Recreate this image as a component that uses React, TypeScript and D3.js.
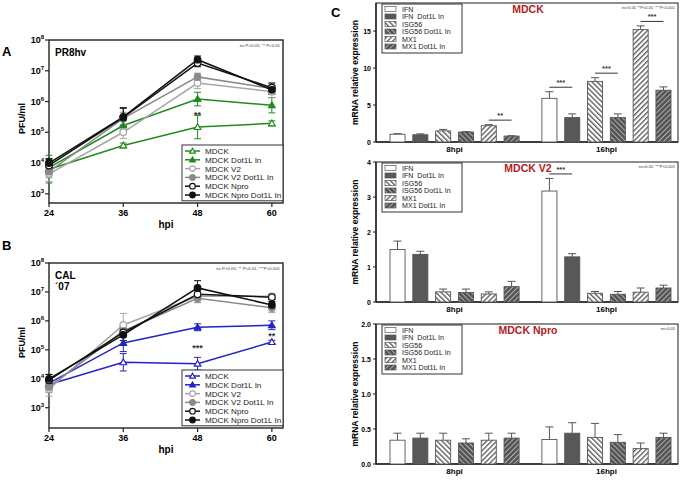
import React from "react";
import * as d3 from "d3";

// ---------- Panels A / B data (log10 PFU/ml) ----------
const hpi = [24, 36, 48, 60];
const lineSeries = ["MDCK", "MDCK Dot1L In", "MDCK V2", "MDCK V2 Dot1L In", "MDCK Npro", "MDCK Npro Dot1L In"];
const pr8Log = [
  [3.8, 4.57, 5.17, 5.29],
  [3.85, 5.22, 6.08, 5.88],
  [3.65, 5.0, 6.6, 6.32],
  [3.72, 5.45, 6.8, 6.42],
  [3.92, 5.48, 7.25, 6.45],
  [4.0, 5.5, 7.36, 6.38],
];
const pr8Err = [
  [0.45, 0.08, 0.38, 0.08],
  [0.2, 0.15, 0.22, 0.25],
  [0.25, 0.2, 0.18, 0.2],
  [0.2, 0.2, 0.12, 0.18],
  [0.2, 0.3, 0.12, 0.15],
  [0.15, 0.3, 0.12, 0.15],
];
const calLog = [
  [3.8, 4.57, 4.52, 5.27],
  [3.85, 5.24, 5.78, 5.85],
  [3.65, 5.86, 6.85, 6.85],
  [3.72, 5.65, 6.78, 6.45],
  [3.95, 5.6, 6.92, 6.82],
  [4.0, 5.52, 7.14, 6.55],
];
const calErr = [
  [0.2, 0.3, 0.22, 0.06],
  [0.15, 0.3, 0.12, 0.15],
  [0.25, 0.4, 0.15, 0.1],
  [0.2, 0.15, 0.15, 0.15],
  [0.2, 0.15, 0.15, 0.08],
  [0.15, 0.2, 0.25, 0.12],
];
const logTicks = [3, 4, 5, 6, 7, 8];
const pr8Stars = [{ x: 48, label: "**" }];
const calStars = [{ x: 48, label: "***" }, { x: 60, label: "**" }];

// ---------- Panel C data ----------
const groups = ["8hpi", "16hpi"];
const genes = ["IFN", "IFN  Dot1L In", "ISG56", "ISG56 Dot1L In", "MX1", "MX1 Dot1L In"];
const mdckVals = [
  [1.05, 0.98, 1.5, 1.35, 2.2, 0.8],
  [5.9, 3.3, 8.2, 3.3, 15.2, 7.0],
];
const mdckErr = [
  [0.08, 0.12, 0.2, 0.05, 0.15, 0.05],
  [0.9, 0.5, 0.5, 0.5, 0.5, 0.45],
];
const v2Vals = [
  [1.5, 1.36, 0.29, 0.27, 0.23, 0.44],
  [3.17, 1.29, 0.25, 0.22, 0.28, 0.4],
];
const v2Err = [
  [0.24, 0.09, 0.08, 0.1, 0.06, 0.15],
  [0.36, 0.09, 0.05, 0.08, 0.12, 0.08],
];
const nproVals = [
  [0.34, 0.37, 0.34, 0.3, 0.34, 0.37],
  [0.35, 0.44, 0.38, 0.31, 0.22, 0.38],
];
const nproErr = [
  [0.1, 0.07, 0.1, 0.06, 0.1, 0.07],
  [0.18, 0.15, 0.2, 0.11, 0.08, 0.06],
];
const mdckTicks = [0, 5, 10, 15];
const v2Ticks = [0, 1, 2, 3, 4];
const nproTicks = [0, 0.5, 1.0, 1.5, 2.0];
const mdckSig = [
  { g: "8hpi", i: 4, label: "**" },
  { g: "16hpi", i: 0, label: "***" },
  { g: "16hpi", i: 2, label: "***" },
  { g: "16hpi", i: 4, label: "***" },
];
const v2Sig = [{ g: "16hpi", i: 0, label: "***" }];
const nproSig: { g: string; i: number; label: string }[] = [];

const FONT = "'Liberation Sans', Arial, sans-serif";
const GREEN = "#1f8a1f";
const BLUE = "#2323c4";
const LGRAY = "#a6a6a6";
const MGRAY = "#8a8a8a";
const BLACK = "#111";

function Marker({ kind, x, y, color, s = 3.3 }: { kind: string; x: number; y: number; color: string; s?: number }) {
  const filled = kind.endsWith("f");
  if (kind.startsWith("t")) {
    const p = `M${x},${y - s}L${x + s},${y + s * 0.75}L${x - s},${y + s * 0.75}Z`;
    return <path d={p} fill={filled ? color : "#fff"} stroke={color} strokeWidth={1.2} />;
  }
  return <circle cx={x} cy={y} r={s} fill={filled ? color : "#fff"} stroke={color} strokeWidth={1.2} />;
}

function LinePanel(props: {
  top: number; bottom: number; yMin: number; vals: number[][]; errs: number[][];
  colors: string[]; title: string[]; note: string; stars: { x: number; label: string }[];
  letter: string; letterY: number; legTop: number; legStep: number;
}) {
  const { top, bottom, yMin, vals, errs, colors, title, note, stars, letter, letterY, legTop, legStep } = props;
  const left = 49, right = 283;
  const x = d3.scaleLinear().domain([24, 61.8]).range([left, right]);
  const y = d3.scaleLog().domain([Math.pow(10, yMin), 1e8]).range([bottom, top]);
  const kinds = ["to", "tf", "co", "cf", "co", "cf"];
  const line = d3.line<[number, number]>().x((d) => x(d[0])).y((d) => y(Math.pow(10, d[1])));
  return (
    <g fontFamily={FONT}>
      <text x={2} y={letterY} fontSize={13} fontWeight="bold">{letter}</text>
      <rect x={left} y={top} width={right - left} height={bottom - top} fill="none" stroke="#222" strokeWidth={1.4} />
      {logTicks.map((t) => (
        <g key={t}>
          <line x1={left - 4} x2={left} y1={y(Math.pow(10, t))} y2={y(Math.pow(10, t))} stroke="#222" strokeWidth={1.2} />
          <text x={44} y={y(Math.pow(10, t)) + 3} textAnchor="end" fontSize={9} fontWeight="bold">
            10<tspan fontSize={6} dy={-4}>{t}</tspan>
          </text>
        </g>
      ))}
      {hpi.map((h) => (
        <g key={h}>
          <line x1={x(h)} x2={x(h)} y1={bottom} y2={bottom + 4} stroke="#222" strokeWidth={1.2} />
          <text x={x(h)} y={bottom + 13} textAnchor="middle" fontSize={9} fontWeight="bold">{h}</text>
        </g>
      ))}
      <text x={(left + right) / 2} y={bottom + 25} textAnchor="middle" fontSize={10} fontWeight="bold">hpi</text>
      <text transform={`translate(25,${(top + bottom) / 2 - 3}) rotate(-90)`} textAnchor="middle" fontSize={9} fontWeight="bold">PFU/ml</text>
      {title.map((t, i) => (
        <text key={i} x={55} y={top + 16 + i * 11} fontSize={10} fontWeight="bold">{t}</text>
      ))}
      <text x={280} y={top + 7} textAnchor="end" fontSize={4.3} fill="#333">{note}</text>
      {vals.map((s, si) => (
        <path key={"l" + si} d={line(s.map((v, i) => [hpi[i], v] as [number, number])) || ""} fill="none" stroke={colors[si]} strokeWidth={1.5} />
      ))}
      {vals.map((s, si) => (
        <g key={"e" + si} stroke={colors[si]} strokeWidth={1}>
          {s.map((v, i) => {
            const y1 = y(Math.pow(10, v - errs[si][i]));
            const y2 = y(Math.pow(10, v + errs[si][i]));
            const cx = x(hpi[i]);
            return (
              <g key={i}>
                <line x1={cx} x2={cx} y1={y1} y2={y2} />
                <line x1={cx - 3.5} x2={cx + 3.5} y1={y1} y2={y1} />
                <line x1={cx - 3.5} x2={cx + 3.5} y1={y2} y2={y2} />
              </g>
            );
          })}
        </g>
      ))}
      {vals.map((s, si) => (
        <g key={"m" + si}>
          {s.map((v, i) => (
            <Marker key={i} kind={kinds[si]} x={x(hpi[i])} y={y(Math.pow(10, v))} color={colors[si]} />
          ))}
        </g>
      ))}
      {stars.map((s, i) => {
        const v = vals[0][hpi.indexOf(s.x)];
        const vv = vals[1][hpi.indexOf(s.x)];
        const yy = (y(Math.pow(10, v)) + y(Math.pow(10, vv))) / 2;
        return <text key={i} x={x(s.x)} y={yy + 5} textAnchor="middle" fontSize={9} fontWeight="bold" fill="#333">{s.label}</text>;
      })}
      <rect x={182} y={legTop} width={101} height={legStep * 6 + 3} fill="#fff" stroke="#333" strokeWidth={1} />
      {lineSeries.map((n, i) => {
        const yy = legTop + 6 + i * legStep;
        return (
          <g key={n}>
            <line x1={185} x2={200} y1={yy} y2={yy} stroke={colors[i]} strokeWidth={1.5} />
            <Marker kind={kinds[i]} x={192.5} y={yy} color={colors[i]} s={2.8} />
            <text x={205} y={yy + 2.9} fontSize={8.1} fill="#222">{n}</text>
          </g>
        );
      })}
    </g>
  );
}

const fills = ["#fff", "#585858", "url(#hISG)", "url(#hISGD)", "url(#hMX)", "url(#hMXD)"];

function BarPanel(props: {
  top: number; bottom: number; yMax: number; ticks: number[]; fmt: (v: number) => string;
  vals: number[][]; errs: number[][]; title: string; note: string;
  sig: { g: string; i: number; label: string }[];
}) {
  const { top, bottom, yMax, ticks, fmt, vals, errs, title, note, sig } = props;
  const left = 376, right = 678;
  const y = d3.scaleLinear().domain([0, yMax]).range([bottom, top]);
  const xo = d3.scaleBand<string>().domain(groups).range([390, 671]).paddingInner(0.15);
  const xi = d3.scaleBand<string>().domain(genes).range([0, xo.bandwidth()]).paddingInner(0.34);
  const legTop = top + 1;
  return (
    <g fontFamily={FONT}>
      <rect x={left} y={top} width={right - left} height={bottom - top} fill="none" stroke="#444" strokeWidth={1.2} />
      <line x1={left} x2={left} y1={top} y2={bottom} stroke="#222" strokeWidth={1.4} />
      <line x1={left} x2={right} y1={bottom} y2={bottom} stroke="#222" strokeWidth={1.4} />
      {ticks.map((t) => (
        <g key={t}>
          <line x1={left - 3} x2={left} y1={y(t)} y2={y(t)} stroke="#222" />
          <text x={371} y={y(t) + 2.5} textAnchor="end" fontSize={7} fontWeight="bold">{fmt(t)}</text>
        </g>
      ))}
      <text transform={`translate(358,${(top + bottom) / 2}) rotate(-90)`} textAnchor="middle" fontSize={8.5} fontWeight="bold">mRNA relative expression</text>
      {groups.map((g, gi) => (
        <g key={g}>
          <text x={(xo(g) as number) + xo.bandwidth() / 2} y={bottom + 9.5} textAnchor="middle" fontSize={8} fontWeight="bold">{g}</text>
          {genes.map((gn, i) => {
            const bx = (xo(g) as number) + (xi(gn) as number);
            const v = vals[gi][i];
            const e = errs[gi][i];
            const cx = bx + xi.bandwidth() / 2;
            return (
              <g key={gn}>
                <line x1={cx} x2={cx} y1={y(v)} y2={y(v + e)} stroke="#555" strokeWidth={1} />
                <line x1={cx - 4} x2={cx + 4} y1={y(v + e)} y2={y(v + e)} stroke="#555" strokeWidth={1} />
                <rect x={bx} y={y(v)} width={xi.bandwidth()} height={bottom - y(v)} fill={fills[i]} stroke="#555" strokeWidth={0.9} />
              </g>
            );
          })}
        </g>
      ))}
      {sig.map((s, k) => {
        const gi = groups.indexOf(s.g);
        const c1 = (xo(s.g) as number) + (xi(genes[s.i]) as number) + xi.bandwidth() / 2;
        const c2 = (xo(s.g) as number) + (xi(genes[s.i + 1]) as number) + xi.bandwidth() / 2;
        const m = Math.max(vals[gi][s.i] + errs[gi][s.i], vals[gi][s.i + 1] + errs[gi][s.i + 1]);
        const ly = y(m) - 4.5;
        return (
          <g key={k}>
            <line x1={c1} x2={c2} y1={ly} y2={ly} stroke="#333" strokeWidth={1} />
            <text x={(c1 + c2) / 2} y={ly - 2} textAnchor="middle" fontSize={7.5} fontWeight="bold" fill="#333">{s.label}</text>
          </g>
        );
      })}
      <text x={528} y={top + 10} textAnchor="middle" fontSize={10.5} fontWeight="bold" fill="#b31b1b">{title}</text>
      <text x={675} y={top + 6} textAnchor="end" fontSize={4} fill="#333">{note}</text>
      <rect x={382} y={legTop} width={80} height={49} fill="#fff" stroke="#333" strokeWidth={1} />
      {genes.map((gn, i) => {
        const yy = legTop + 5 + i * 7.5;
        return (
          <g key={gn}>
            <rect x={385} y={yy - 2.5} width={11} height={5} fill={fills[i]} stroke="#555" strokeWidth={0.7} />
            <text x={402} y={yy + 2.6} fontSize={7.1} fill="#222" style={{ whiteSpace: "pre" }}>{gn}</text>
          </g>
        );
      })}
    </g>
  );
}

export default function App() {
  return (
    <svg width={685} height={480} style={{ position: "absolute", left: 0, top: 0, background: "#fff" }}>
      <defs>
        <pattern id="hISG" width={3.6} height={3.6} patternUnits="userSpaceOnUse" patternTransform="rotate(-45)">
          <rect width={3.6} height={3.6} fill="#fff" />
          <rect width={1.3} height={3.6} fill="#555" />
        </pattern>
        <pattern id="hISGD" width={3.6} height={3.6} patternUnits="userSpaceOnUse" patternTransform="rotate(-45)">
          <rect width={3.6} height={3.6} fill="#555" />
          <rect width={0.9} height={3.6} fill="#b5b5b5" />
        </pattern>
        <pattern id="hMX" width={3.6} height={3.6} patternUnits="userSpaceOnUse" patternTransform="rotate(45)">
          <rect width={3.6} height={3.6} fill="#fff" />
          <rect width={1.3} height={3.6} fill="#555" />
        </pattern>
        <pattern id="hMXD" width={3.6} height={3.6} patternUnits="userSpaceOnUse" patternTransform="rotate(45)">
          <rect width={3.6} height={3.6} fill="#555" />
          <rect width={0.9} height={3.6} fill="#b5b5b5" />
        </pattern>
      </defs>
      <LinePanel top={40} bottom={203} yMin={2.7} vals={pr8Log} errs={pr8Err}
        colors={[GREEN, GREEN, LGRAY, MGRAY, BLACK, BLACK]} title={["PR8hv"]}
        note="ns P>0.05; ** P<0.01" stars={pr8Stars} letter="A" letterY={56} legTop={145} legStep={8.8} />
      <LinePanel top={263} bottom={428} yMin={2.3} vals={calLog} errs={calErr}
        colors={[BLUE, BLUE, LGRAY, MGRAY, BLACK, BLACK]} title={["CAL", "´07"]}
        note="ns P>0.05; ** P<0.01; ***P<0.001" stars={calStars} letter="B" letterY={250} legTop={370} legStep={8.8} />
      <text x={331} y={17} fontSize={13} fontWeight="bold" fontFamily={FONT}>C</text>
      <BarPanel top={3} bottom={142} yMax={18.8} ticks={mdckTicks} fmt={(v) => String(v)} vals={mdckVals} errs={mdckErr}
        title="MDCK" note="ns>0.05 **P<0.01; ***P<0.001" sig={mdckSig} />
      <BarPanel top={162} bottom={302} yMax={4} ticks={v2Ticks} fmt={(v) => String(v)} vals={v2Vals} errs={v2Err}
        title="MDCK V2" note="ns>0.05; ***P<0.001" sig={v2Sig} />
      <BarPanel top={324} bottom={464} yMax={2} ticks={nproTicks} fmt={(v) => v.toFixed(1)} vals={nproVals} errs={nproErr}
        title="MDCK Npro" note="ns>0.05" sig={nproSig} />
    </svg>
  );
}
